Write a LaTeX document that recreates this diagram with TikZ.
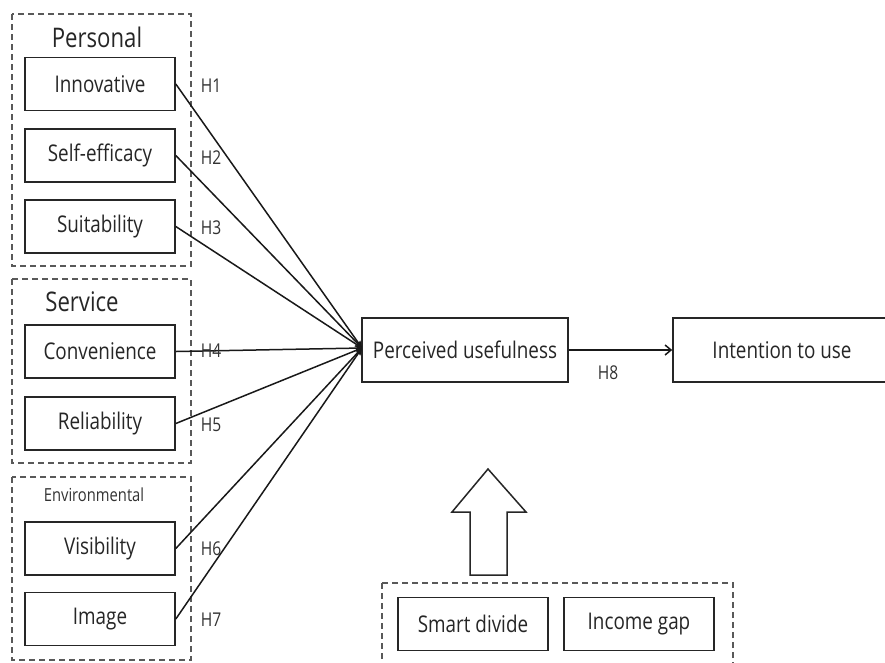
\documentclass[tikz,border=0pt]{standalone}
\usepackage{fontspec}
\setmainfont{Open Sans}[FakeStretch=0.82]
\usetikzlibrary{arrows.meta}
\begin{document}
\begin{tikzpicture}[x=1pt,y=-1pt,
  box/.style={draw=black!85, line width=1.6pt, minimum width=150pt, minimum height=53pt, inner sep=0pt, font=\fontsize{23}{26}\selectfont, text=black!85},
  group/.style={draw=black!65, line width=1.6pt, dash pattern=on 6pt off 4pt},
  hlab/.style={font=\fontsize{19}{21}\selectfont, text=black!80, inner sep=0pt},
  head/.style={font=\fontsize{27}{30}\selectfont, text=black!85, inner sep=0pt},
  link/.style={draw=black!90, line width=1.5pt, -{Stealth[length=7pt,width=6pt]}}]
\useasboundingbox (0,0) rectangle (885,662);
\clip (0,0) rectangle (885,662);
\fill[white] (0,0) rectangle (885,662);
% groups
\draw[group] (12,14) rectangle (191,266);
\draw[group] (12,279) rectangle (191,463);
\draw[group] (12,477) rectangle (191,660);
\draw[group] (382,583) rectangle (733,680);
\node[head] (personal) at (97,37) {Personal};
\node[head] (service) at (82,302) {Service};
\node[hlab, font=\fontsize{18}{20}\selectfont] (env) at (94,495) {Environmental};
% boxes
\node[box] (inn) at (100,84) {Innovative};
\node[box] (self) at (100,155.5) {Self-efficacy};
\node[box] (suit) at (100,226.5) {Suitability};
\node[box] (conv) at (100,351.5) {Convenience};
\node[box] (rel) at (100,423.5) {Reliability};
\node[box] (vis) at (100,548.5) {Visibility};
\node[box] (img) at (100,619) {Image};
\node[box, minimum width=206pt, minimum height=64pt] (pu) at (465,350) {Perceived usefulness};
\node[box, minimum width=218pt, minimum height=64pt] (itu) at (782,350) {Intention to use};
\node[box] (smart) at (473,624) {Smart divide};
\node[box] (income) at (639,624) {Income gap};
\coordinate (conv0) at (362,348);
% links
\foreach \n in {inn,self,suit,conv,rel,vis,img}
  \draw[link] (\n.east) -- (conv0);
\draw[link, -{Straight Barb[length=6pt,width=10pt]}] (pu.east) -- (itu.west);
% H labels
\node[hlab] (h1) at (211,86) {H1};
\node[hlab] (h2) at (211,158) {H2};
\node[hlab] (h3) at (211,228) {H3};
\node[hlab] (h4) at (211,351) {H4};
\node[hlab] (h5) at (211,425) {H5};
\node[hlab] (h6) at (211,549) {H6};
\node[hlab] (h7) at (211,620) {H7};
\node[hlab] (h8) at (608,373) {H8};
% hollow arrow
\draw[draw=black!85, line width=1.5pt, fill=white] (470,575) -- (470,512) -- (452,512) -- (488,469) -- (526,512) -- (507,512) -- (507,575) -- cycle;
\end{tikzpicture}
\end{document}
